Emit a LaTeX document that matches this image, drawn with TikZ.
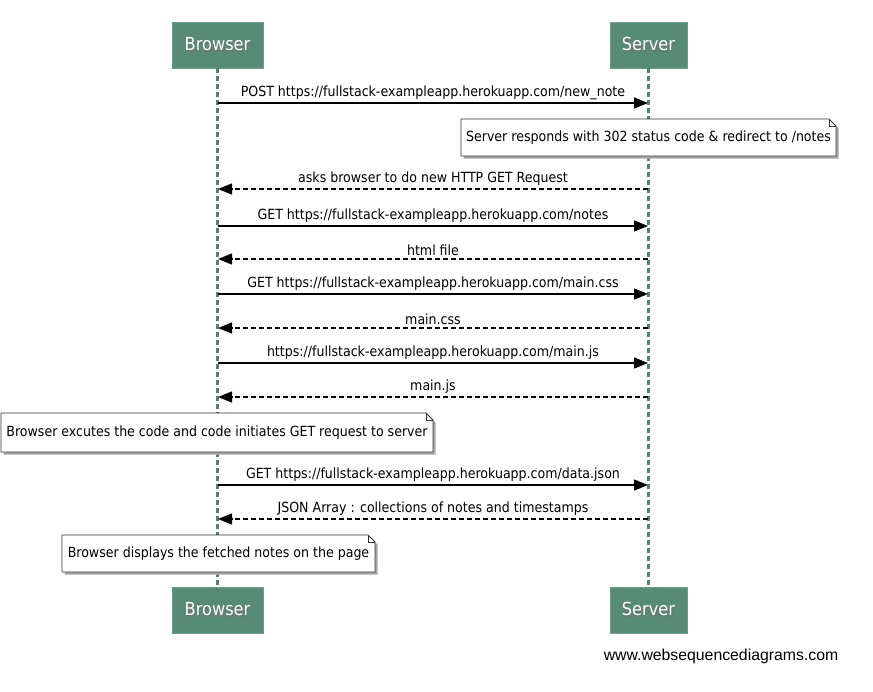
\documentclass[tikz,border=0pt]{standalone}
\usepackage{fontspec}
\setmainfont{DejaVu Sans Condensed}
\newfontfamily\footfont{Liberation Sans}
\usetikzlibrary{arrows.meta,backgrounds}
\definecolor{actfill}{HTML}{568B75}
\definecolor{actline}{HTML}{6E9E89}
\definecolor{lifecol}{HTML}{4F8572}
\newcommand{\shadowed}[1]{\rlap{\raisebox{-1.2pt}{\hspace{1.2pt}\textcolor{black!55}{#1}}}#1}
\tikzset{
  actor/.style={draw=actline,fill=actfill,text=white,font=\fontsize{18}{20}\selectfont,minimum height=46pt,inner sep=0pt},
  lifeline/.style={draw=lifecol,line width=2.5pt,dash pattern=on 5pt off 3pt},
  msg/.style={line width=1.4pt,-{Triangle[length=14pt,width=11pt]}},
  reply/.style={msg,dash pattern=on 5pt off 3pt},
  lbl/.style={font=\fontsize{14}{16}\selectfont,anchor=south,inner sep=0pt},
  notetext/.style={font=\fontsize{14}{16}\selectfont,inner sep=0pt,anchor=center},
  notebg/.style={fill=white,draw=black!80,line width=0.9pt},
  noteshadow/.style={fill=black!35},
}
\newcommand{\notebox}[5]{% name, x1, y1, x2, y2
  \coordinate (#1sw) at (#2,#5);
  \coordinate (#1ne) at (#4,#3);
  \fill[noteshadow] ([shift={(2.5pt,-2.5pt)}]#1sw) -- ([shift={(2.5pt,0pt)}]#1sw |- #1ne) -- ([shift={(-4.5pt,-2.5pt)}]#1ne) -- ([shift={(2.5pt,-9.5pt)}]#1ne) -- ([shift={(2.5pt,-2.5pt)}]#1ne |- #1sw) -- cycle;
  \path[notebg] (#1sw) -- (#1sw |- #1ne) -- ([xshift=-7pt]#1ne) -- ([yshift=-7pt]#1ne) -- (#1ne |- #1sw) -- cycle;
  \draw[black!80,line width=0.9pt] ([xshift=-7pt]#1ne) -- ([xshift=-7pt,yshift=-7pt]#1ne) -- ([yshift=-7pt]#1ne);
}
\begin{document}
\begin{tikzpicture}[x=1pt,y=-1pt]
\useasboundingbox (0,0) rectangle (873,691);
% actors
\node[actor,minimum width=91pt] (bt) at (217.5,45) {\shadowed{Browser}};
\node[actor,minimum width=77pt] (st) at (648.5,45) {\shadowed{Server}};
\node[actor,minimum width=91pt] (bb) at (217.5,610) {\shadowed{Browser}};
\node[actor,minimum width=77pt] (sb) at (648.5,610) {\shadowed{Server}};
\draw[lifeline] (bt.south) -- (bb.north);
\draw[lifeline] (st.south) -- (sb.north);
% message anchors
\foreach \n/\y in {1/103,2/189,3/226,4/259,5/294,6/328,7/363,8/397,9/485,10/519}{
  \coordinate (b\n) at (218,\y);
  \coordinate (s\n) at (648,\y);
}
\draw[msg] (b1) -- (s1) node[lbl,midway,above=2.5pt] {POST https://fullstack-exampleapp.herokuapp.com/new\_note};
% note 1
\notebox{na}{461}{119}{836}{156}
\node[notetext] (n1) at (648.5,137.5) {Server responds with 302 status code \& redirect to /notes};
\draw[reply] (s2) -- (b2) node[lbl,midway,above=2.5pt] {asks browser to do new HTTP GET Request};
\draw[msg] (b3) -- (s3) node[lbl,midway,above=2.5pt] {GET https://fullstack-exampleapp.herokuapp.com/notes};
\draw[reply] (s4) -- (b4) node[lbl,midway,above=2.5pt] {html file};
\draw[msg] (b5) -- (s5) node[lbl,midway,above=2.5pt] {GET https://fullstack-exampleapp.herokuapp.com/main.css};
\draw[reply] (s6) -- (b6) node[lbl,midway,above=2.5pt] {main.css};
\draw[msg] (b7) -- (s7) node[lbl,midway,above=2.5pt] {https://fullstack-exampleapp.herokuapp.com/main.js};
\draw[reply] (s8) -- (b8) node[lbl,midway,above=2.5pt] {main.js};
% note 2
\notebox{nb}{1}{413}{433}{452}
\node[notetext] (n2) at (217,432.5) {Browser excutes the code and code initiates GET request to server};
\draw[msg] (b9) -- (s9) node[lbl,midway,above=2.5pt] {GET https://fullstack-exampleapp.herokuapp.com/data.json};
\draw[reply] (s10) -- (b10) node[lbl,midway,above=2.5pt] {JSON Array : collections of notes and timestamps};
% note 3
\notebox{nc}{62}{535}{375}{572}
\node[notetext] (n3) at (218.5,553.5) {Browser displays the fetched notes on the page};
% footer
\node[font=\footfont\fontsize{15.8}{18}\selectfont,inner sep=0pt] (foot) at (721,656) {www.websequencediagrams.com};
\end{tikzpicture}
\end{document}
